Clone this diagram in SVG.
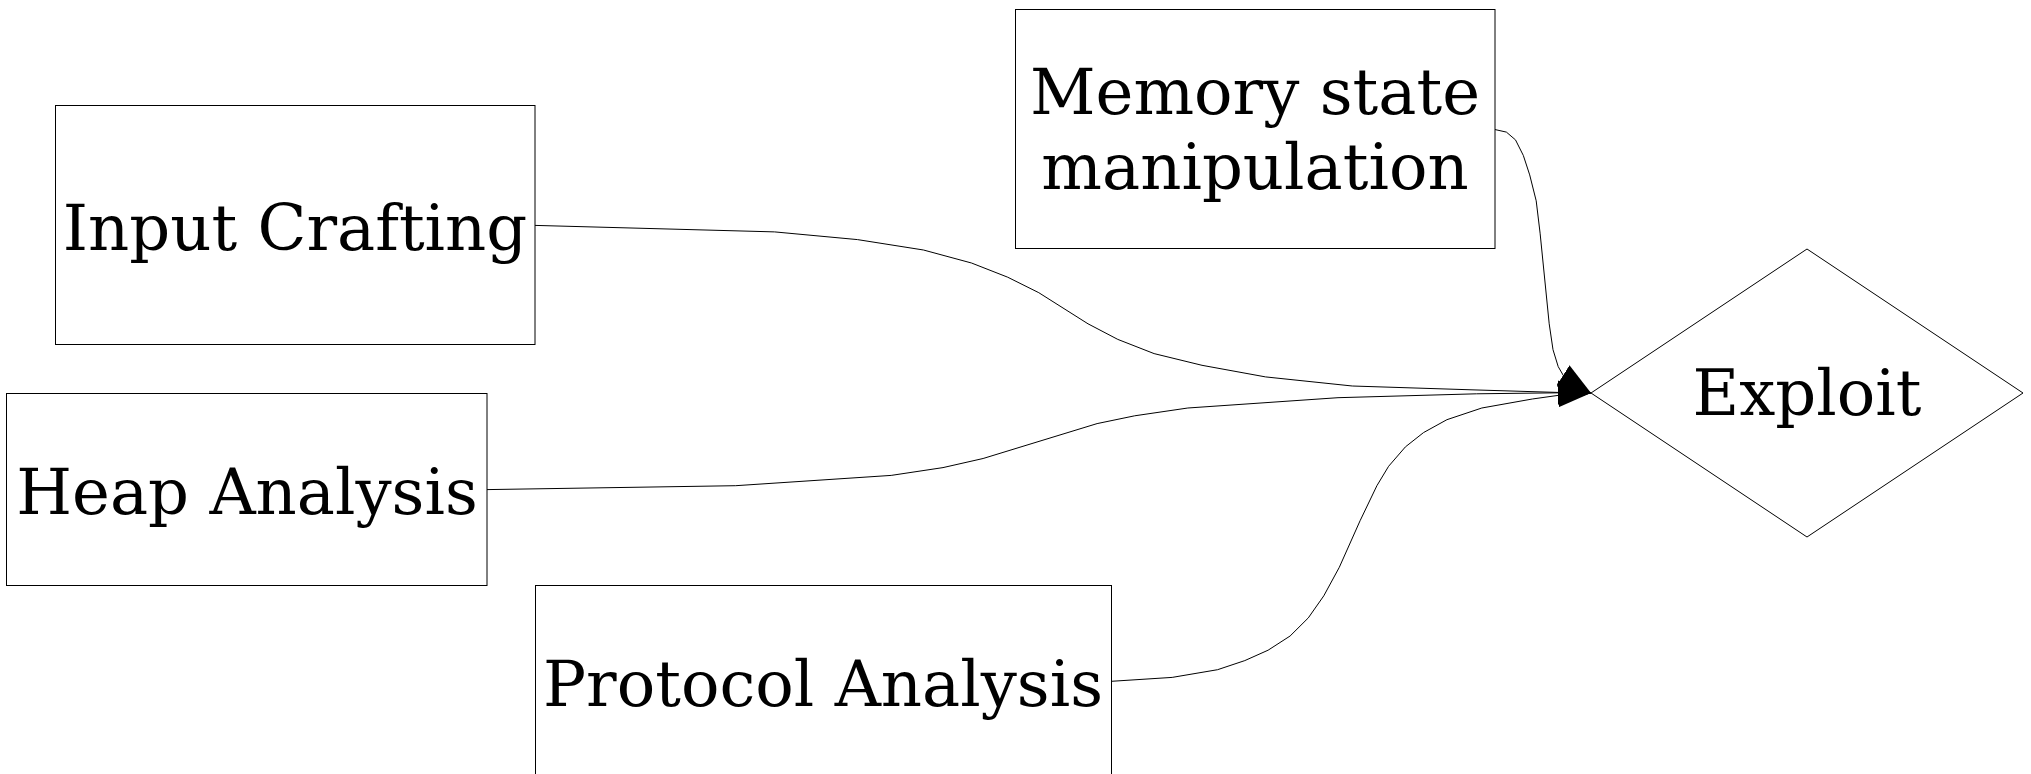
<svg xmlns="http://www.w3.org/2000/svg" width="2031" height="774" viewBox="0 0 2031 774">
<defs>
<style>
.node rect, .node polygon { fill: #ffffff; stroke: #000000; stroke-width: 1; }
.node text { font-family: "DejaVu Serif", "Liberation Serif", serif; font-size: 64px; fill: #000000; text-anchor: middle; }
.edge { fill: none; stroke: #000000; stroke-width: 1; stroke-linejoin: round; marker-end: url(#arrow); }
</style>
<marker id="arrow" markerUnits="userSpaceOnUse" viewBox="0 0 33 24" refX="33" refY="12" markerWidth="33" markerHeight="24" orient="auto">
<path d="M0,0 L33,12 L0,24 Z" fill="#000000"/>
</marker>
</defs>
<rect width="2031" height="774" fill="#ffffff"/>
<g id="connectors">
<path class="edge" d="M535,225.4 L774.6,231.9 L857.5,239.6 L923.5,250 L971.5,263 L1007.7,277.2 L1038.8,292.7 L1088,323.8 L1117.8,339.4 L1154.1,353.6 L1202,365.3 L1265.5,376.9 L1352.3,386 L1474,389.9 L1560.8,392.5 L1591,393"/>
<path class="edge" d="M487,489.6 L735.7,485.7 L891.2,475.4 L943,467.6 L983.1,458.5 L1097.1,423.6 L1134.7,415.8 L1187.8,408 L1338,397.7 L1476.6,393.8 L1560.8,392.8 L1591,393"/>
<path class="edge" d="M1111.4,681.3 L1172.2,677.4 L1217.6,669.7 L1244.8,660.6 L1268.1,650.2 L1290.1,636 L1308.3,617.9 L1323.8,595.8 L1339.3,567.3 L1360.1,520.7 L1376.9,485.7 L1388.6,466.3 L1405.4,446.9 L1423.5,432.6 L1446.9,419.7 L1481.8,408 L1532.3,399 L1560.8,395 L1591,393"/>
<path class="edge" d="M1494.8,129.5 L1506.4,132.1 L1515.5,139.9 L1523.3,155.4 L1529.7,174.9 L1536.2,200.8 L1540.1,233.2 L1545.3,285 L1549.2,323.8 L1553,349.7 L1558.2,366.6 L1563.4,375.6 L1591,393"/>
</g>
<g id="node-memory" class="node">
<rect x="1015.5" y="9.5" width="479.5" height="239"/>
<text x="1255" y="114">Memory state</text>
<text x="1255" y="189">manipulation</text>
</g>
<g id="node-input" class="node">
<rect x="55.5" y="105.5" width="479.5" height="239"/>
<text x="295" y="250">Input Crafting</text>
</g>
<g id="node-heap" class="node">
<rect x="6.5" y="393.5" width="480.5" height="192"/>
<text x="247" y="514">Heap Analysis</text>
</g>
<g id="node-protocol" class="node">
<rect x="535.5" y="585.5" width="576" height="240"/>
<text x="823" y="706">Protocol Analysis</text>
</g>
<g id="node-exploit" class="node">
<polygon points="1591,393 1807,249 2023,393 1807,537"/>
<text x="1807" y="415">Exploit</text>
</g>
</svg>
